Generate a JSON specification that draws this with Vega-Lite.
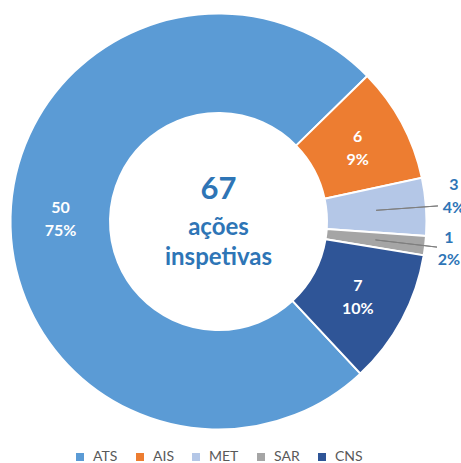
{
  "$schema": "https://vega.github.io/schema/vega-lite/v6.json",
  "width": 437,
  "height": 443,
  "padding": {"left": 0, "top": 0, "right": 24, "bottom": 20},
  "autosize": {"type": "none"},
  "background": "white",
  "config": {"view": {"stroke": null}, "text": {"font": "Lato"}},
  "datasets": {
    "slices": [
      {"cat": "ATS", "value": 50, "k": 1, "label": "50\n75%"},
      {"cat": "AIS", "value": 6, "k": 2, "label": "6\n9%"},
      {"cat": "MET", "value": 3, "k": 3, "label": "3\n4%"},
      {"cat": "SAR", "value": 1, "k": 4, "label": "1\n2%"},
      {"cat": "CNS", "value": 7, "k": 5, "label": "7\n10%"}
    ]
  },
  "layer": [
    {
      "data": {"name": "slices"},
      "mark": {"type": "arc", "outerRadius": 208, "innerRadius": 108.5, "stroke": "white", "strokeWidth": 2},
      "encoding": {
        "theta": {"field": "value", "type": "quantitative", "stack": true, "scale": {"range": [2.391, 8.674]}},
        "order": {"field": "k", "type": "quantitative"},
        "color": {
          "field": "cat", "type": "nominal",
          "scale": {"domain": ["ATS", "AIS", "MET", "SAR", "CNS"], "range": ["#5B9BD5", "#ED7D31", "#B4C7E7", "#A5A5A5", "#2F5597"]},
          "legend": {
            "title": null, "orient": "none", "legendX": 73, "legendY": 450, "direction": "horizontal",
            "symbolType": "square", "symbolSize": 64, "symbolStrokeWidth": 0,
            "labelFont": "Lato", "labelFontSize": 14, "labelColor": "#595959",
            "labelOffset": 6, "columnPadding": 15
          }
        }
      }
    },
    {
      "data": {"name": "slices"},
      "mark": {"type": "arc", "outerRadius": 220, "innerRadius": 158, "padAngle": 3, "fill": "transparent", "strokeWidth": 1},
      "encoding": {
        "theta": {"field": "value", "type": "quantitative", "stack": true, "scale": {"range": [2.391, 8.674]}},
        "order": {"field": "k", "type": "quantitative"},
        "stroke": {"condition": {"test": "datum.cat === 'MET' || datum.cat === 'SAR'", "value": "#7F7F7F"}, "value": "transparent"}
      }
    },
    {
      "data": {"name": "slices"},
      "mark": {"type": "text", "radius": 158, "dy": -10, "fontSize": 16, "fontWeight": "bold", "color": "white", "lineBreak": "\n", "lineHeight": 23, "baseline": "middle", "align": "center"},
      "encoding": {
        "theta": {"field": "value", "type": "quantitative", "stack": true, "scale": {"range": [2.391, 8.674]}},
        "order": {"field": "k", "type": "quantitative"},
        "text": {"condition": {"test": "datum.cat === 'MET' || datum.cat === 'SAR'", "value": ""}, "field": "label"}
      }
    },
    {
      "data": {"name": "slices"},
      "mark": {"type": "text", "radius": 236, "dy": -20, "fontSize": 16, "fontWeight": "bold", "color": "#2E75B6", "lineBreak": "\n", "lineHeight": 23, "baseline": "middle", "align": "center"},
      "encoding": {
        "theta": {"field": "value", "type": "quantitative", "stack": true, "scale": {"range": [2.391, 8.674]}},
        "order": {"field": "k", "type": "quantitative"},
        "text": {"condition": {"test": "datum.cat !== 'MET'", "value": ""}, "field": "label"}
      }
    },
    {
      "data": {"name": "slices"},
      "mark": {"type": "text", "radius": 232, "dy": -11, "fontSize": 16, "fontWeight": "bold", "color": "#2E75B6", "lineBreak": "\n", "lineHeight": 22, "baseline": "middle", "align": "center"},
      "encoding": {
        "theta": {"field": "value", "type": "quantitative", "stack": true, "scale": {"range": [2.391, 8.674]}},
        "order": {"field": "k", "type": "quantitative"},
        "text": {"condition": {"test": "datum.cat !== 'SAR'", "value": ""}, "field": "label"}
      }
    },
    {
      "data": {"values": [{"t": "67"}]},
      "mark": {"type": "text", "dy": -32, "fontSize": 31, "fontWeight": "bold", "color": "#2E75B6", "baseline": "middle", "align": "center"},
      "encoding": {"text": {"field": "t"}}
    },
    {
      "data": {"values": [{"t": "ações"}]},
      "mark": {"type": "text", "dy": 6, "fontSize": 24, "fontWeight": "bold", "color": "#2E75B6", "baseline": "middle", "align": "center"},
      "encoding": {"text": {"field": "t"}}
    },
    {
      "data": {"values": [{"t": "inspetivas"}]},
      "mark": {"type": "text", "dy": 36, "fontSize": 24, "fontWeight": "bold", "color": "#2E75B6", "baseline": "middle", "align": "center"},
      "encoding": {"text": {"field": "t"}}
    }
  ]
}
